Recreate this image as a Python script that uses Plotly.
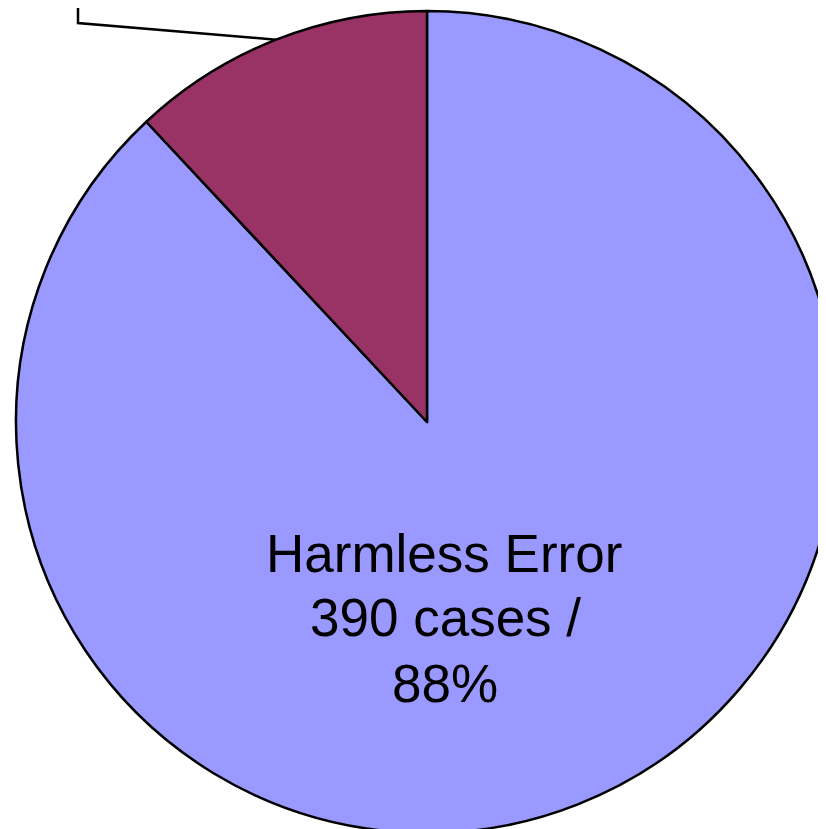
import plotly.graph_objects as go
import math

# ---- data ----
labels = ["Harmless Error", "Harmful Error"]
cases = [390, 53]
colors = ["#9999FF", "#993366"]

# page has an 8px body margin, so work in plot-local pixels
W, H = 830, 825
L0, T0 = 8, 3  # pie box left/top inside the plot
fig = go.Figure()
fig.add_trace(go.Pie(
    labels=labels, values=cases, sort=False, direction="clockwise",
    rotation=0, marker=dict(colors=colors, line=dict(color="black", width=2.5)),
    textinfo="none", hoverinfo="label+value+percent", showlegend=False,
    domain=dict(x=[L0 / W, 1], y=[0, 1 - T0 / H]),
))

# pie geometry (pixels) from domain
cx = (L0 + W) / 2
cy = (T0 + H) / 2
r = min(W - L0, H - T0) / 2

def px(x): return x / W
def py(y): return 1 - y / H

# leader line from the middle of the small slice (last slice, just left of 12 o'clock)
total = sum(cases)
mid = math.radians(360 * cases[1] / total / 2)
ax_px = cx - r * math.sin(mid)
ay_px = cy - r * math.cos(mid)
elbow_x, elbow_y = 70, 15
fig.add_shape(type="path", xref="paper", yref="paper",
              path=f"M {px(ax_px)} {py(ay_px)} L {px(elbow_x)} {py(elbow_y)} L {px(elbow_x)} {py(-20)}",
              line=dict(color="black", width=2.5))

pct = round(100 * cases[0] / total)
lines = [labels[0], f"{cases[0]} cases /", f"{pct}%"]
ys = [545, 609, 675]
xs = [436, 437, 437]
for t, x, y in zip(lines, xs, ys):
    fig.add_annotation(text=t, x=px(x), y=py(y), xref="paper", yref="paper",
                       xanchor="center", yanchor="middle", showarrow=False,
                       font=dict(family="Liberation Sans, Arial", size=53, color="black"))

fig.update_layout(width=W, height=H, margin=dict(l=0, r=0, t=0, b=0),
                  paper_bgcolor="white", plot_bgcolor="white")
fig.write_html("out.html")
